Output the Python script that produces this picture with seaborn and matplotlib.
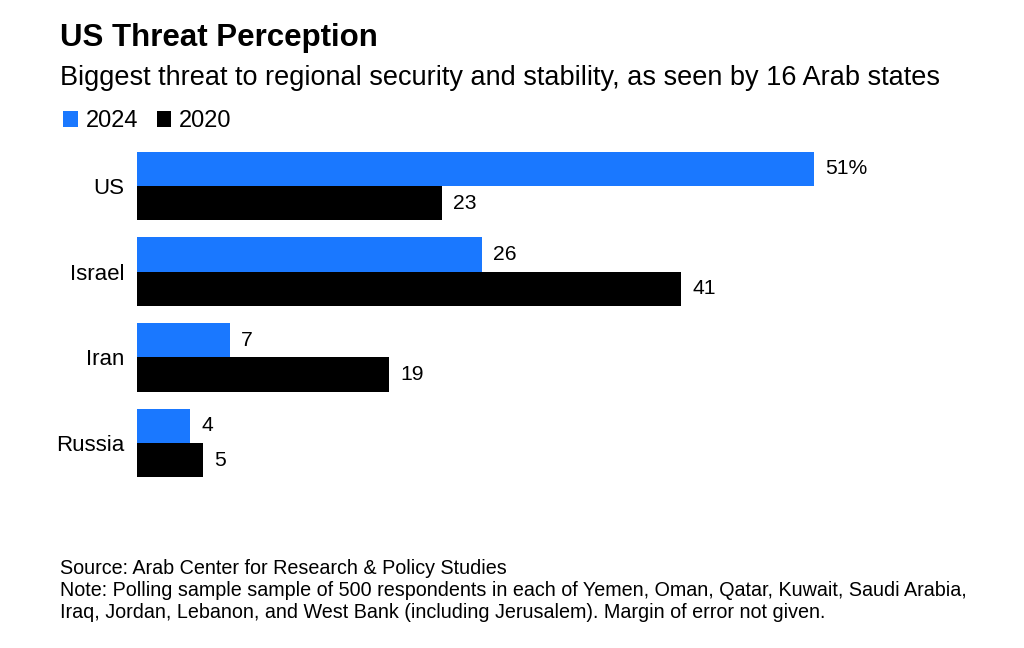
import pandas as pd
import matplotlib
matplotlib.use("Agg")
import matplotlib.pyplot as plt
import seaborn as sns

# chart data
threats = ["US", "Israel", "Iran", "Russia"]
share_2024 = [51, 26, 7, 4]
share_2020 = [23, 41, 19, 5]
years = ["2024", "2020"]

df = pd.DataFrame({
    "threat": threats * 2,
    "share": share_2024 + share_2020,
    "year": [years[0]] * len(threats) + [years[1]] * len(threats),
})

sns.set_theme(style="white")
plt.rcParams["font.family"] = ["Liberation Sans", "DejaVu Sans"]
plt.rcParams["text.color"] = "black"
plt.rcParams["ytick.color"] = "black"
plt.rcParams["ytick.labelcolor"] = "black"

palette = {"2024": "#1a78ff", "2020": "#000000"}

fig = plt.figure(figsize=(10.24, 6.48), dpi=100)
ax = fig.add_axes([137 / 1024, 1 - 486 / 648, 730 / 1024, 343 / 648])

sns.barplot(data=df, y="threat", x="share", hue="year", hue_order=years,
            palette=palette, orient="h", width=0.8, gap=0, saturation=1,
            linewidth=0, ax=ax, legend=True)

ax.set_xlim(0, 55)
ax.set_xlabel("")
ax.set_ylabel("")
ax.set_xticks([])
ax.tick_params(axis="y", length=0, pad=9, labelsize=16, labelcolor="black")
for side in ["top", "right", "bottom", "left"]:
    ax.spines[side].set_visible(False)

# value labels
for i, cont in enumerate(ax.containers):
    if i == 0:
        labels = [f"{v}%" if j == 0 else f"{v}" for j, v in enumerate(share_2024)]
    else:
        labels = [f"{v}" for v in share_2020]
    ax.bar_label(cont, labels=labels, padding=8, fontsize=15.2, color="black")

handles, labels = ax.get_legend_handles_labels()
ax.get_legend().remove()
fig.legend(handles, labels, loc="upper left", bbox_to_anchor=(54 / 1024, 1 - 101 / 648),
           ncol=2, frameon=False, fontsize=17, handlelength=0.62, handleheight=0.62,
           handletextpad=0.34, columnspacing=0.76, borderaxespad=0)

fig.text(60 / 1024, 1 - 38 / 648, "US Threat Perception", fontsize=22.5,
         fontweight="bold", va="center", ha="left")
fig.text(60 / 1024, 1 - 78 / 648,
         "Biggest threat to regional security and stability, as seen by 16 Arab states",
         fontsize=19.5, va="center", ha="left")

fig.text(60 / 1024, 1 - 568 / 648, "Source: Arab Center for Research & Policy Studies",
         fontsize=14.2, va="center", ha="left")
fig.text(60 / 1024, 1 - 590 / 648,
         "Note: Polling sample sample of 500 respondents in each of Yemen, Oman, Qatar, Kuwait, Saudi Arabia,",
         fontsize=14.2, va="center", ha="left")
fig.text(60 / 1024, 1 - 612 / 648,
         "Iraq, Jordan, Lebanon, and West Bank (including Jerusalem). Margin of error not given.",
         fontsize=14.2, va="center", ha="left")

fig.savefig("out.png", dpi=100, facecolor="white")
